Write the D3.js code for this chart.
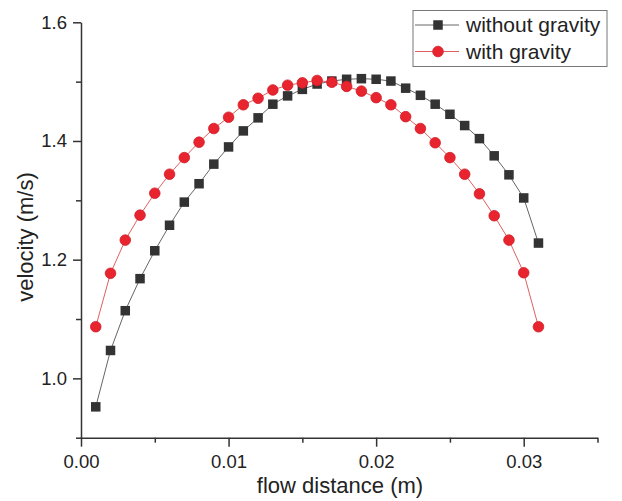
<!DOCTYPE html>
<html>
<head>
<meta charset="utf-8">
<script src="https://d3js.org/d3.v7.min.js"></script>
<style>
  body { margin: 0; background: #fff; }
  svg { display: block; font-family: Arial, "Liberation Sans", sans-serif; }
  .axis path, .axis line { stroke: #333; stroke-width: 1.5; }
  .axis text { fill: #222; font-size: 18.5px; font-family: Arial, "Liberation Sans", sans-serif; }
</style>
</head>
<body>
<svg width="622" height="501"></svg>
<script>
// flow distance (m)
var distance = [0.001, 0.002, 0.003, 0.004, 0.005, 0.006, 0.007, 0.008, 0.009, 0.010,
  0.011, 0.012, 0.013, 0.014, 0.015, 0.016, 0.017, 0.018, 0.019, 0.020,
  0.021, 0.022, 0.023, 0.024, 0.025, 0.026, 0.027, 0.028, 0.029, 0.030, 0.031];

// velocity (m/s)
var withoutGravity = [0.952, 1.047, 1.114, 1.168, 1.215, 1.258, 1.297, 1.328, 1.361, 1.390,
  1.417, 1.439, 1.462, 1.476, 1.487, 1.496, 1.501, 1.504, 1.505, 1.504,
  1.501, 1.489, 1.477, 1.462, 1.445, 1.426, 1.404, 1.375, 1.343, 1.304, 1.228];
var withGravity = [1.087, 1.177, 1.233, 1.275, 1.312, 1.344, 1.372, 1.398, 1.421, 1.440,
  1.461, 1.472, 1.486, 1.494, 1.498, 1.502, 1.499, 1.492, 1.484, 1.473,
  1.461, 1.441, 1.421, 1.397, 1.372, 1.344, 1.311, 1.274, 1.233, 1.178, 1.087];

var seriesNames = ["without gravity", "with gravity"];
var xTicks = [0, 0.01, 0.02, 0.03], xMinor = [0.005, 0.015, 0.025, 0.035];
var yTicks = [1.0, 1.2, 1.4, 1.6], yMinor = [0.9, 1.1, 1.3, 1.5];

var svg = d3.select("svg");
var x = d3.scaleLinear().domain([0, 0.035]).range([81, 597.5]),
  y = d3.scaleLinear().domain([0.9, 1.6]).range([437.7, 22.3]);

// minor ticks first, then the main axes on top
svg.append("g").attr("class", "axis")
  .attr("transform", "translate(0,437.7)")
  .call(d3.axisBottom(x).tickValues(xMinor).tickSize(5).tickFormat(""))
  .select(".domain").remove();
svg.append("g").attr("class", "axis")
  .attr("transform", "translate(81,0)")
  .call(d3.axisLeft(y).tickValues(yMinor).tickSize(5).tickFormat(""))
  .select(".domain").remove();

var xAxis = svg.append("g").attr("class", "axis")
  .attr("transform", "translate(0,437.7)")
  .call(d3.axisBottom(x).tickValues(xTicks).tickSize(9).tickSizeOuter(0).tickPadding(8).tickFormat(d3.format(".2f")));
var yAxis = svg.append("g").attr("class", "axis")
  .attr("transform", "translate(81,0)")
  .call(d3.axisLeft(y).tickValues(yTicks).tickSize(8).tickSizeOuter(0).tickPadding(6).tickFormat(d3.format(".1f")));

// axis titles
svg.append("text")
  .attr("x", 340).attr("y", 493)
  .attr("text-anchor", "middle")
  .style("font-size", "22px").attr("fill", "#222")
  .text("flow distance (m)");
svg.append("text")
  .attr("transform", "translate(33,237) rotate(-90)")
  .attr("text-anchor", "middle")
  .style("font-size", "22px").attr("fill", "#222")
  .text("velocity (m/s)");

var line = d3.line()
  .x(function(d) { return x(d[0]); })
  .y(function(d) { return y(d[1]); });

var blackPts = distance.map(function(d, i) { return [d, withoutGravity[i]]; });
var redPts = distance.map(function(d, i) { return [d, withGravity[i]]; });

svg.append("path").attr("d", line(blackPts))
  .attr("fill", "none").attr("stroke", "#666").attr("stroke-width", 1);
svg.append("path").attr("d", line(redPts))
  .attr("fill", "none").attr("stroke", "#e06060").attr("stroke-width", 1);

var sq = 9.5;
svg.selectAll(".sq").data(blackPts).enter().append("rect")
  .attr("class", "sq")
  .attr("x", function(d) { return x(d[0]) - sq / 2; })
  .attr("y", function(d) { return y(d[1]) - sq / 2; })
  .attr("width", sq).attr("height", sq)
  .attr("fill", "#333");

svg.selectAll(".dot").data(redPts).enter().append("circle")
  .attr("class", "dot")
  .attr("cx", function(d) { return x(d[0]); })
  .attr("cy", function(d) { return y(d[1]); })
  .attr("r", 5.3)
  .attr("fill", "#e8242e").attr("stroke", "#d01c28").attr("stroke-width", 0.8);

// legend
var legend = svg.append("g");
legend.append("rect")
  .attr("x", 413).attr("y", 10.5).attr("width", 194).attr("height", 56)
  .attr("fill", "#fff").attr("stroke", "#777").attr("stroke-width", 1);

var rows = [25, 51.5];
seriesNames.forEach(function(name, i) {
  var g = legend.append("g").attr("transform", "translate(0," + rows[i] + ")");
  g.append("line").attr("x1", 415).attr("x2", 459).attr("y1", 0).attr("y2", 0)
    .attr("stroke", i == 0 ? "#666" : "#e06060").attr("stroke-width", 1);
  if (i == 0) {
    g.append("rect").attr("x", 438 - sq / 2).attr("y", -sq / 2)
      .attr("width", sq).attr("height", sq).attr("fill", "#333");
  } else {
    g.append("circle").attr("cx", 438).attr("cy", 0).attr("r", 5.3)
      .attr("fill", "#e8242e").attr("stroke", "#d01c28").attr("stroke-width", 0.8);
  }
  g.append("text").attr("x", 466).attr("y", 7)
    .style("font-size", "21px").attr("fill", "#222")
    .text(name);
});
</script>
</body>
</html>
